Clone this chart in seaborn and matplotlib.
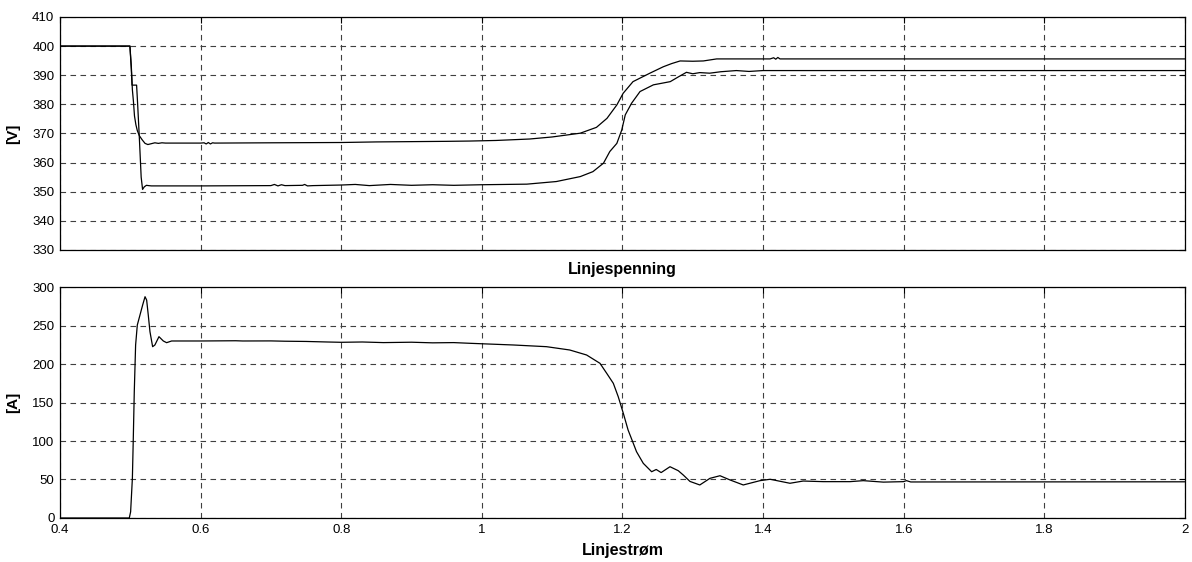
import numpy as np
import pandas as pd
import matplotlib
matplotlib.use("Agg")
import matplotlib.pyplot as plt
from matplotlib.ticker import FormatStrFormatter, MultipleLocator
import seaborn as sns

# --- data ---
# top panel: line voltages [V]
t_upper = [0.40, 0.4995, 0.5015, 0.503, 0.5045, 0.506, 0.508, 0.510, 0.513, 0.517,
           0.521, 0.525, 0.530, 0.535, 0.540, 0.545, 0.55, 0.60, 0.605, 0.608,
           0.611, 0.614, 0.617, 0.62, 0.70, 0.80, 0.85, 0.90, 0.95, 0.983,
           1.02, 1.068, 1.10, 1.14, 1.163, 1.178, 1.192, 1.201, 1.215, 1.239,
           1.258, 1.270, 1.282, 1.30, 1.315, 1.334, 1.36, 1.41, 1.415, 1.418,
           1.421, 1.424, 2.0]
v_upper = [400, 400, 393, 385, 381, 376, 373, 371, 369.2, 367.8,
           366.6, 366.2, 366.5, 366.8, 366.6, 366.8, 366.7, 366.7, 366.8, 366.4,
           366.9, 366.4, 366.8, 366.7, 366.8, 366.9, 367.1, 367.2, 367.3, 367.4,
           367.6, 368.1, 368.8, 370.1, 372.1, 375.2, 379.8, 383.8, 387.8, 390.7,
           392.9, 394.0, 394.9, 394.8, 394.9, 395.6, 395.6, 395.6, 396.0, 395.5,
           396.1, 395.6, 395.6]

t_lower = [0.40, 0.4995, 0.5015, 0.5025, 0.509, 0.5105, 0.513, 0.5155, 0.5175, 0.520,
           0.523, 0.526, 0.53, 0.60, 0.70, 0.705, 0.71, 0.715, 0.72, 0.745,
           0.748, 0.752, 0.76, 0.80, 0.82, 0.84, 0.87, 0.90, 0.93, 0.96,
           1.00, 1.064, 1.106, 1.14, 1.158, 1.173, 1.182, 1.192, 1.199, 1.204,
           1.213, 1.225, 1.244, 1.255, 1.268, 1.28, 1.291, 1.30, 1.31, 1.324,
           1.34, 1.362, 1.38, 1.40, 2.0]
v_lower = [400, 400, 392, 386.6, 386.6, 380, 368, 355, 350.8, 351.7,
           352.2, 352.1, 352.0, 352.0, 352.1, 352.5, 352.0, 352.4, 352.1, 352.2,
           352.5, 352.0, 352.1, 352.3, 352.5, 352.1, 352.5, 352.2, 352.4, 352.2,
           352.4, 352.6, 353.5, 355.2, 356.9, 359.8, 363.8, 366.6, 371.2, 376.4,
           380.4, 384.4, 386.7, 387.2, 387.8, 389.5, 391.0, 390.5, 390.9, 390.7,
           391.2, 391.6, 391.3, 391.6, 391.6]

# bottom panel: line current [A]
t_cur = [0.40, 0.4986, 0.5005, 0.503, 0.5043, 0.5057, 0.5076, 0.510, 0.5138, 0.5176,
         0.521, 0.5233, 0.5256, 0.528, 0.5318, 0.535, 0.5408, 0.547, 0.5517, 0.5588,
         0.60, 0.65, 0.66, 0.70, 0.72, 0.75, 0.78, 0.80, 0.83, 0.86,
         0.90, 0.93, 0.96, 0.983, 1.045, 1.092, 1.125, 1.149, 1.168, 1.1776,
         1.187, 1.194, 1.2012, 1.208, 1.2154, 1.220, 1.2296, 1.2415, 1.248, 1.255,
         1.2676, 1.2794, 1.2865, 1.296, 1.31, 1.3244, 1.3387, 1.353, 1.3718, 1.3956,
         1.41, 1.4382, 1.457, 1.4856, 1.5236, 1.5425, 1.571, 1.5995, 1.604, 1.61,
         2.0]
i_cur = [0, 0, 8, 51.5, 103.5, 164, 224.7, 250.6, 263.6, 276.6,
         287.4, 283, 263.6, 242, 222.5, 224.7, 235.5, 229.9, 227.7, 229.9,
         229.9, 230.2, 229.9, 230.0, 229.6, 229.3, 228.6, 228.2, 228.6, 227.8,
         228.3, 227.5, 227.8, 226.9, 224.7, 222.5, 218.2, 211.7, 200.9, 187.9,
         174.9, 157.5, 136, 114.3, 97, 86.1, 71, 60.1, 63, 59,
         66.6, 61.4, 55.8, 47.5, 42.9, 51.5, 54.9, 49.4, 42.9, 48.5,
         50.3, 45.1, 48.0, 47.2, 47.2, 48.5, 46.6, 47.2, 48.5, 46.8,
         47.0]

x_ticks = [0.4, 0.6, 0.8, 1.0, 1.2, 1.4, 1.6, 1.8, 2.0]

sns.set_style("white")
plt.rcParams['font.family'] = ['Liberation Sans', 'DejaVu Sans']
plt.rcParams['text.color'] = 'k'
plt.rcParams['axes.labelcolor'] = 'k'

fig = plt.figure(figsize=(11.92, 5.62), dpi=100)
ax1 = fig.add_axes([0.0503, 0.5552, 0.9438, 0.4146])
ax2 = fig.add_axes([0.0503, 0.0783, 0.9438, 0.4110])

df_u = pd.DataFrame({"t": t_upper, "v": v_upper})
df_l = pd.DataFrame({"t": t_lower, "v": v_lower})
df_i = pd.DataFrame({"t": t_cur, "i": i_cur})

sns.lineplot(data=df_u, x="t", y="v", ax=ax1, color="k", lw=0.9, estimator=None)
sns.lineplot(data=df_l, x="t", y="v", ax=ax1, color="k", lw=0.9, estimator=None)
sns.lineplot(data=df_i, x="t", y="i", ax=ax2, color="k", lw=0.9, estimator=None)

ax1.set_ylim(330, 410)
ax1.yaxis.set_major_locator(MultipleLocator(10))
ax2.set_ylim(0, 300)
ax2.yaxis.set_major_locator(MultipleLocator(50))

for ax in (ax1, ax2):
    ax.set_xlim(0.4, 2.0)
    ax.set_xticks(x_ticks)
    ax.xaxis.set_major_formatter(FormatStrFormatter('%g'))
    ax.grid(True, color="0.25", linestyle=(0, (5, 4)), linewidth=0.8)
    ax.tick_params(direction="in", length=4, width=0.8, labelsize=9.5,
                   top=True, right=True, colors="k", pad=4)
    for s in ax.spines.values():
        s.set_color("k")
        s.set_linewidth(0.9)

ax1.tick_params(labelbottom=False)

ax1.set_xlabel("Linjespenning", fontsize=11.5, fontweight="bold")
ax1.xaxis.set_label_coords(0.5, -0.052)
ax1.set_ylabel("[V]", fontsize=11, fontweight="bold")
ax1.yaxis.set_label_coords(-0.035, 0.5)

ax2.set_xlabel("Linjestrøm", fontsize=11.5, fontweight="bold")
ax2.xaxis.set_label_coords(0.5, -0.11)
ax2.set_ylabel("[A]", fontsize=11, fontweight="bold")
ax2.yaxis.set_label_coords(-0.035, 0.5)

fig.savefig("out.png", dpi=100)
